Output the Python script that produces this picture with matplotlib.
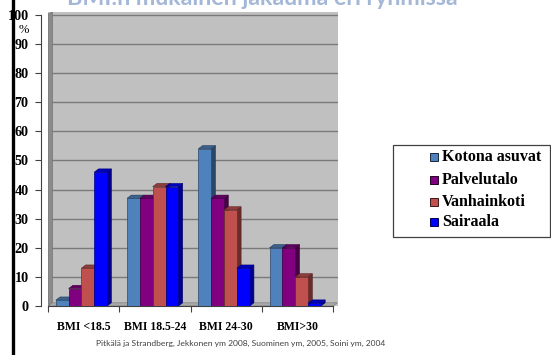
import numpy as np
import matplotlib
matplotlib.use("Agg")
import matplotlib.pyplot as plt
from matplotlib.patches import Polygon, Rectangle
from matplotlib.colors import to_rgb

categories = ["BMI <18.5", "BMI 18.5-24", "BMI 24-30", "BMI>30"]
series = ["Kotona asuvat", "Palvelutalo", "Vanhainkoti", "Sairaala"]
kotona = [2, 37, 54, 20]
palvelutalo = [6, 37, 37, 20]
vanhainkoti = [13, 41, 33, 10]
sairaala = [46, 41, 13, 1]
yticks = [0, 10, 20, 30, 40, 50, 60, 70, 80, 90, 100]
title = "BMI:n mukainen jakauma eri ryhmissä"
source = "Pitkälä ja Strandberg, Jekkonen ym 2008, Suominen ym, 2005, Soini ym, 2004"

colors = ["#4F81BD", "#800080", "#C0504D", "#0000FF"]
values = [kotona, palvelutalo, vanhainkoti, sairaala]

W, H = 551, 355
fig = plt.figure(figsize=(W / 100, H / 100), dpi=100)
fig.patch.set_facecolor("white")

ax = fig.add_axes([48 / W, 49 / H, 290 / W, 294 / H])
ax.set_facecolor("#C0C0C0")
ax.set_xlim(-0.5, 3.57)
ax.set_ylim(0, 101)

dx, dy = 0.06, 1.1
serif = "Liberation Serif"

# back wall grid
ax.hlines(yticks[1:], -0.5 + dx, 3.57, color="#7A7A7A", lw=1.0, zorder=1)
# left wall and floor
ax.add_patch(Polygon([(-0.5, 0), (-0.5 + dx, dy), (-0.5 + dx, 101), (-0.5, 100.2)],
                     closed=True, fc="#8C8C8C", ec="#707070", lw=0.6, zorder=2))
ax.add_patch(Polygon([(-0.5, 0), (3.5, 0), (3.5 + dx, dy), (-0.5 + dx, dy)],
                     closed=True, fc="#A8A8A8", ec="#808080", lw=0.5, zorder=2))

x = np.arange(len(categories))
bw = 0.18
offsets = (np.arange(4) - 1.5) * bw - 0.03
z = 3
for i in range(len(categories)):
    for k in range(4):
        c = np.array(to_rgb(colors[k]))
        bar = ax.bar(x[i] + offsets[k], values[k][i], bw, color=colors[k],
                     edgecolor=tuple(c * 0.55), lw=0.5, zorder=z + 1)[0]
        x0, w, v = bar.get_x(), bar.get_width(), bar.get_height()
        side = Polygon([(x0 + w, 0), (x0 + w + dx, dy), (x0 + w + dx, v + dy), (x0 + w, v)],
                       closed=True, fc=tuple(c * 0.55), ec=tuple(c * 0.4), lw=0.4, zorder=z)
        top = Polygon([(x0, v), (x0 + dx, v + dy), (x0 + w + dx, v + dy), (x0 + w, v)],
                      closed=True, fc=tuple(c * 0.75), ec=tuple(c * 0.45), lw=0.4, zorder=z)
        ax.add_patch(side)
        ax.add_patch(top)
        z += 2

ax.spines["top"].set_visible(False)
ax.spines["right"].set_visible(False)
ax.spines["left"].set_position(("outward", 5))
ax.spines["left"].set_color("#404040")
ax.spines["bottom"].set_color("#404040")
ax.spines["left"].set_bounds(0, 100)
ax.spines["bottom"].set_bounds(-0.5, 3.5)

ax.set_yticks(yticks)
ax.set_yticklabels([str(t) for t in yticks])
for lab in ax.get_yticklabels():
    lab.set_fontfamily(serif)
    lab.set_fontweight("bold")
    lab.set_fontsize(10.2)
ax.set_xticks(np.arange(-0.5, 4, 1))
ax.set_xticklabels([])
ax.set_xticks(x, minor=True)
ax.set_xticklabels(categories, minor=True)
for lab in ax.get_xticklabels(minor=True):
    lab.set_fontfamily(serif)
    lab.set_fontweight("bold")
    lab.set_fontsize(8.5)
ax.tick_params(axis="x", which="minor", length=0, pad=11)
ax.tick_params(axis="x", which="major", length=4, color="#404040")
ax.tick_params(axis="y", length=4, color="#404040", pad=5)

fig.text(24 / W, 1 - 30 / H, "%", fontsize=9, fontfamily=serif, ha="center", va="center")

# partially visible title, fitted to the width seen in the reference
t = fig.text(262 / W, 1 - 5 / H, title, fontsize=20, fontfamily="Lato", fontweight="bold",
             color="#A3B7D6", ha="center", va="baseline")
r = fig.canvas.get_renderer()
t.set_fontsize(20 * 391 / t.get_window_extent(r).width)

# left black rule
fig.add_artist(plt.Line2D([13 / W, 13 / W], [0, 1], color="black", lw=2.4))

# legend box
fig.add_artist(Rectangle((393 / W, 1 - 237 / H), 157 / W, 92 / H, transform=fig.transFigure,
                         fc="white", ec="#404040", lw=0.9))
leg_y = [157, 180, 202, 222]
for k, name in enumerate(series):
    c = np.array(to_rgb(colors[k]))
    fig.add_artist(Rectangle((430 / W, 1 - (leg_y[k] + 4) / H), 8 / W, 8 / H,
                             transform=fig.transFigure, fc=colors[k], ec=tuple(c * 0.3), lw=0.7))
    fig.text(442 / W, 1 - leg_y[k] / H, name, fontsize=11.5, fontfamily=serif,
             fontweight="bold", ha="left", va="center")

fig.text(241 / W, 1 - 343 / H, source, fontsize=6.1, fontfamily="Lato",
         color="#404040", ha="center", va="center")

fig.savefig("out.png", dpi=100)
